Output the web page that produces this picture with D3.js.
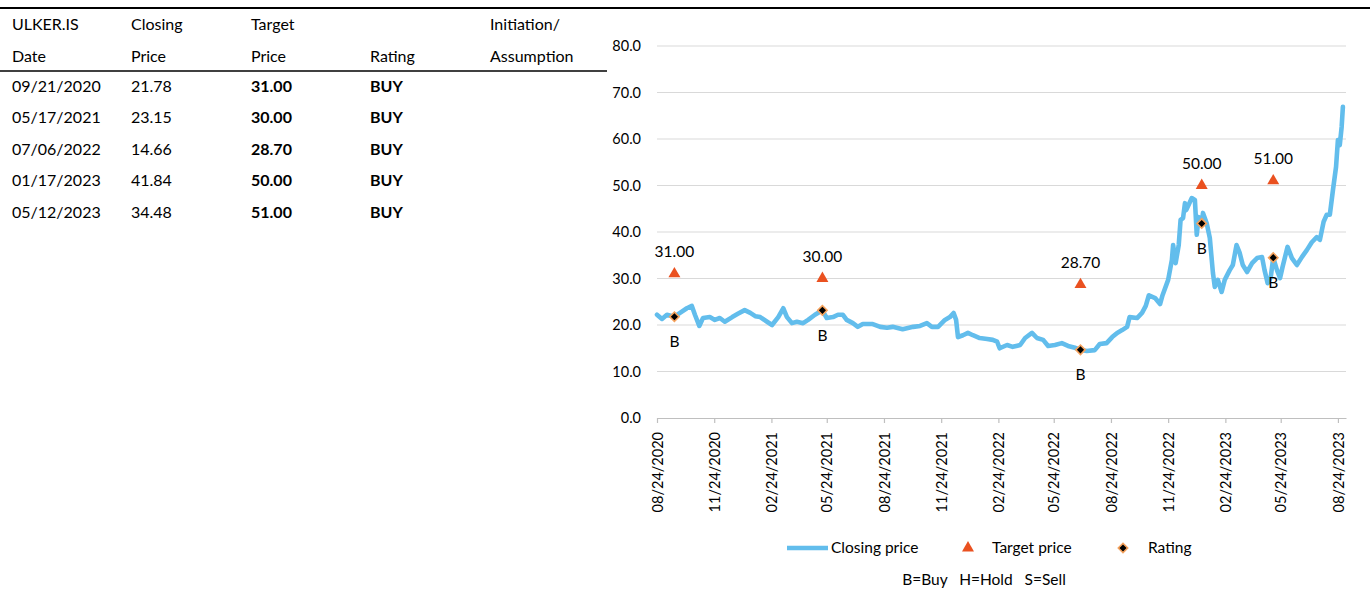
<!DOCTYPE html>
<html>
<head>
<meta charset="utf-8">
<script src="https://cdn.jsdelivr.net/npm/d3@7"></script>
<style>
  html, body { margin: 0; padding: 0; background: #fff; }
  svg { display: block; font-family: Lato, "Open Sans", sans-serif; }
</style>
</head>
<body>
<svg id="chart" width="1370" height="592"></svg>
<script>
// ---------- data ----------
const ticker = "ULKER.IS";
const ratingDates = ["2020-09-21", "2021-05-17", "2022-07-06", "2023-01-17", "2023-05-12"];
const ratingDateLabels = ["09/21/2020", "05/17/2021", "07/06/2022", "01/17/2023", "05/12/2023"];
const ratingClose = [21.78, 23.15, 14.66, 41.84, 34.48];
const targetPrices = [31.00, 30.00, 28.70, 50.00, 51.00];
const ratingNames = ["BUY", "BUY", "BUY", "BUY", "BUY"];
const ratingCodes = ["B", "B", "B", "B", "B"];

const priceDates = [
  "2020-08-24","2020-09-01","2020-09-09","2020-09-21","2020-09-30","2020-10-11","2020-10-19","2020-10-24","2020-10-31",
  "2020-11-06","2020-11-17","2020-11-25","2020-12-03","2020-12-11","2020-12-23","2021-01-01","2021-01-12","2021-01-21",
  "2021-01-29","2021-02-06","2021-02-17","2021-02-25","2021-03-07","2021-03-15","2021-03-21","2021-03-29","2021-04-06",
  "2021-04-16","2021-04-24","2021-05-05","2021-05-17","2021-05-24","2021-06-03","2021-06-11","2021-06-19","2021-06-25",
  "2021-07-05","2021-07-13","2021-07-21","2021-08-06","2021-08-18","2021-08-29","2021-09-07","2021-09-23","2021-10-10",
  "2021-10-21","2021-11-01","2021-11-09","2021-11-19","2021-11-30","2021-12-08","2021-12-14","2021-12-18","2021-12-21",
  "2021-12-29","2022-01-06","2022-01-14","2022-01-25","2022-02-06","2022-02-15","2022-02-22","2022-02-26","2022-03-10",
  "2022-03-19","2022-03-31","2022-04-08","2022-04-19","2022-04-27","2022-05-07","2022-05-15","2022-05-26","2022-06-06",
  "2022-06-16","2022-06-27","2022-07-06","2022-07-16","2022-07-29","2022-08-06","2022-08-17","2022-08-26","2022-09-03",
  "2022-09-11","2022-09-19","2022-09-23","2022-10-05","2022-10-13","2022-10-19","2022-10-24","2022-11-03","2022-11-11",
  "2022-11-15","2022-11-24","2022-11-30","2022-12-02","2022-12-06","2022-12-11","2022-12-14","2022-12-18","2022-12-21",
  "2022-12-23","2023-01-01","2023-01-06","2023-01-09","2023-01-12","2023-01-17","2023-01-19","2023-01-25","2023-01-30",
  "2023-02-04","2023-02-07","2023-02-12","2023-02-18","2023-02-23","2023-03-03","2023-03-08","2023-03-14","2023-03-19",
  "2023-03-24","2023-03-31","2023-04-08","2023-04-16","2023-04-24","2023-04-28","2023-05-03","2023-05-08","2023-05-12",
  "2023-05-18","2023-05-23","2023-05-27","2023-06-04","2023-06-11","2023-06-19","2023-06-27","2023-07-05","2023-07-13",
  "2023-07-21","2023-07-26","2023-08-01","2023-08-06","2023-08-11","2023-08-16","2023-08-21","2023-08-24","2023-08-27",
  "2023-08-30","2023-09-01"
];
const priceValues = [
  22.2,21.3,22.2,21.78,22.6,23.6,24.1,22.2,19.8,
  21.5,21.7,21.1,21.5,20.7,21.7,22.4,23.2,22.6,
  21.9,21.7,20.7,20.0,21.7,23.6,21.7,20.4,20.7,
  20.4,21.1,22.2,23.15,21.5,21.7,22.2,22.2,21.1,
  20.4,19.6,20.2,20.2,19.6,19.4,19.6,19.1,19.6,
  19.8,20.4,19.6,19.6,21.1,21.7,22.6,21.1,17.4,
  17.8,18.3,17.8,17.2,17.0,16.8,16.4,15.0,15.7,
  15.3,15.7,17.2,18.3,17.2,16.8,15.5,15.7,16.1,
  15.5,15.1,14.66,14.4,14.6,15.9,16.1,17.4,18.3,
  18.9,19.6,21.7,21.5,22.6,24.1,26.4,25.8,24.5,
  26.4,29.7,34.0,37.2,33.3,37.2,42.6,43.0,46.2,
  44.7,47.3,46.9,39.4,43.2,41.84,44.1,41.9,38.7,
  31.2,28.2,29.7,27.1,29.7,31.8,32.9,37.2,35.5,
  32.9,31.4,33.3,34.4,34.6,31.8,29.0,30.3,34.48,
  31.8,30.1,32.5,36.8,34.4,32.9,34.6,36.1,37.8,
  38.9,38.3,42.2,43.7,43.7,49.0,54.0,59.8,58.7,
  62.6,66.9
];

const yTicks = [0, 10, 20, 30, 40, 50, 60, 70, 80];
const xTickDates = ["2020-08-24","2020-11-24","2021-02-24","2021-05-24","2021-08-24","2021-11-24",
  "2022-02-24","2022-05-24","2022-08-24","2022-11-24","2023-02-24","2023-05-24","2023-08-24"];
const tableHeader1 = [ticker, "Closing", "Target", "", "Initiation/"];
const tableHeader2 = ["Date", "Price", "Price", "Rating", "Assumption"];
const legendLabels = ["Closing price", "Target price", "Rating"];
const ratingKey = "B=Buy   H=Hold   S=Sell";

// ---------- setup ----------
const parse = d3.utcParse("%Y-%m-%d");
const fmtDate = d3.utcFormat("%m/%d/%Y");
const svg = d3.select("#chart");
const LINE_COLOR = "#62bdec";
const TRI_COLOR = "#ea5120";
const DIA_STROKE = "#f5a25d";
const GRID = "#d9d9d9";

// top rule
svg.append("line").attr("x1", 0).attr("x2", 1370).attr("y1", 8).attr("y2", 8)
  .attr("stroke", "#000").attr("stroke-width", 2);

// ---------- table ----------
const colX = [12, 131, 251, 370, 490];
const tbl = svg.append("g").attr("font-size", 16).attr("fill", "#000");
tableHeader1.forEach((t, i) => tbl.append("text").attr("x", colX[i]).attr("y", 24).attr("dy", "0.35em").text(t));
tableHeader2.forEach((t, i) => tbl.append("text").attr("x", colX[i]).attr("y", 56).attr("dy", "0.35em").text(t));
svg.append("line").attr("x1", 0).attr("x2", 607).attr("y1", 71).attr("y2", 71)
  .attr("stroke", "#000").attr("stroke-width", 1.6);
const rowY = d3.scaleLinear().domain([0, 4]).range([86, 212]);
ratingDateLabels.forEach((d, i) => {
  const yy = rowY(i);
  tbl.append("text").attr("x", colX[0]).attr("y", yy).attr("dy", "0.35em").text(d);
  tbl.append("text").attr("x", colX[1]).attr("y", yy).attr("dy", "0.35em").text(ratingClose[i].toFixed(2));
  tbl.append("text").attr("x", colX[2]).attr("y", yy).attr("dy", "0.35em").attr("font-weight", "bold").text(targetPrices[i].toFixed(2));
  tbl.append("text").attr("x", colX[3]).attr("y", yy).attr("dy", "0.35em").attr("font-weight", "bold").text(ratingNames[i]);
});

// ---------- chart ----------
const x = d3.scaleUtc().domain([parse("2020-08-24"), parse("2023-09-06")]).range([657, 1346]);
const y = d3.scaleLinear().domain([0, 80]).range([418, 46]);

// gridlines
svg.append("g").selectAll("line").data(yTicks.filter(d => d > 0)).join("line")
  .attr("x1", 657).attr("x2", 1346).attr("y1", d => y(d)).attr("y2", d => y(d))
  .attr("stroke", GRID).attr("stroke-width", 1.2);

// y axis
const yAxis = svg.append("g").attr("transform", "translate(657,0)")
  .call(d3.axisLeft(y).tickValues(yTicks).tickFormat(d3.format(".1f")).tickSize(0).tickPadding(16));
yAxis.select(".domain").remove();
yAxis.selectAll("text").attr("font-size", 14.5).attr("fill", "#000").attr("font-family", "Lato, sans-serif");

// x axis
const xAxis = svg.append("g").attr("transform", "translate(0,418)")
  .call(d3.axisBottom(x).tickValues(xTickDates.map(parse)).tickFormat(fmtDate).tickSize(5).tickSizeOuter(0));
xAxis.select(".domain").attr("stroke", "#bfbfbf").attr("stroke-width", 1.2);
xAxis.selectAll(".tick line").attr("stroke", "#bfbfbf").attr("stroke-width", 1.2);
xAxis.selectAll("text")
  .attr("font-size", 14.5).attr("fill", "#000").attr("font-family", "Lato, sans-serif")
  .attr("text-anchor", "end")
  .attr("transform", "rotate(-90)")
  .attr("x", -14).attr("y", 0).attr("dy", "0.36em");

// price line
const priceData = priceDates.map((d, i) => ({ date: parse(d), v: priceValues[i] }));
svg.append("path").datum(priceData)
  .attr("fill", "none").attr("stroke", LINE_COLOR).attr("stroke-width", 4.6)
  .attr("stroke-linejoin", "round").attr("stroke-linecap", "round")
  .attr("d", d3.line().x(d => x(d.date)).y(d => y(d.v)));

// target triangles + labels
const tri = d3.symbol().type(d3.symbolTriangle).size(62);
const sq = d3.symbol().type(d3.symbolSquare).size(44);
const events = ratingDates.map((d, i) => ({ date: parse(d), close: ratingClose[i], target: targetPrices[i], code: ratingCodes[i] }));

svg.append("g").selectAll("path").data(events).join("path")
  .attr("transform", d => `translate(${x(d.date)},${y(d.target)})`)
  .attr("d", tri).attr("fill", TRI_COLOR);
svg.append("g").attr("font-size", 15.5).selectAll("text").data(events).join("text")
  .attr("x", d => x(d.date)).attr("y", d => y(d.target) - 22).attr("dy", "0.35em")
  .attr("text-anchor", "middle").text(d => d.target.toFixed(2));

// rating diamonds + codes
svg.append("g").selectAll("path").data(events).join("path")
  .attr("transform", d => `translate(${x(d.date)},${y(d.close)}) rotate(45)`)
  .attr("d", sq).attr("fill", "#000").attr("stroke", DIA_STROKE).attr("stroke-width", 1.6);
svg.append("g").attr("font-size", 15.5).selectAll("text").data(events).join("text")
  .attr("x", d => x(d.date)).attr("y", d => y(d.close) + 25).attr("dy", "0.35em")
  .attr("text-anchor", "middle").text(d => d.code);

// ---------- legend ----------
const lg = svg.append("g").attr("font-size", 15.5);
lg.append("line").attr("x1", 787).attr("x2", 828).attr("y1", 548).attr("y2", 548)
  .attr("stroke", LINE_COLOR).attr("stroke-width", 4.6);
lg.append("text").attr("x", 831).attr("y", 548).attr("dy", "0.35em").text(legendLabels[0]);
lg.append("path").attr("transform", "translate(968,548)").attr("d", tri).attr("fill", TRI_COLOR);
lg.append("text").attr("x", 992).attr("y", 548).attr("dy", "0.35em").text(legendLabels[1]);
lg.append("path").attr("transform", "translate(1123,548) rotate(45)").attr("d", sq)
  .attr("fill", "#000").attr("stroke", DIA_STROKE).attr("stroke-width", 1.6);
lg.append("text").attr("x", 1148).attr("y", 548).attr("dy", "0.35em").text(legendLabels[2]);
lg.append("text").attr("x", 984).attr("y", 580).attr("dy", "0.35em").attr("text-anchor", "middle")
  .attr("xml:space", "preserve").style("white-space", "pre").text(ratingKey);
</script>
</body>
</html>
